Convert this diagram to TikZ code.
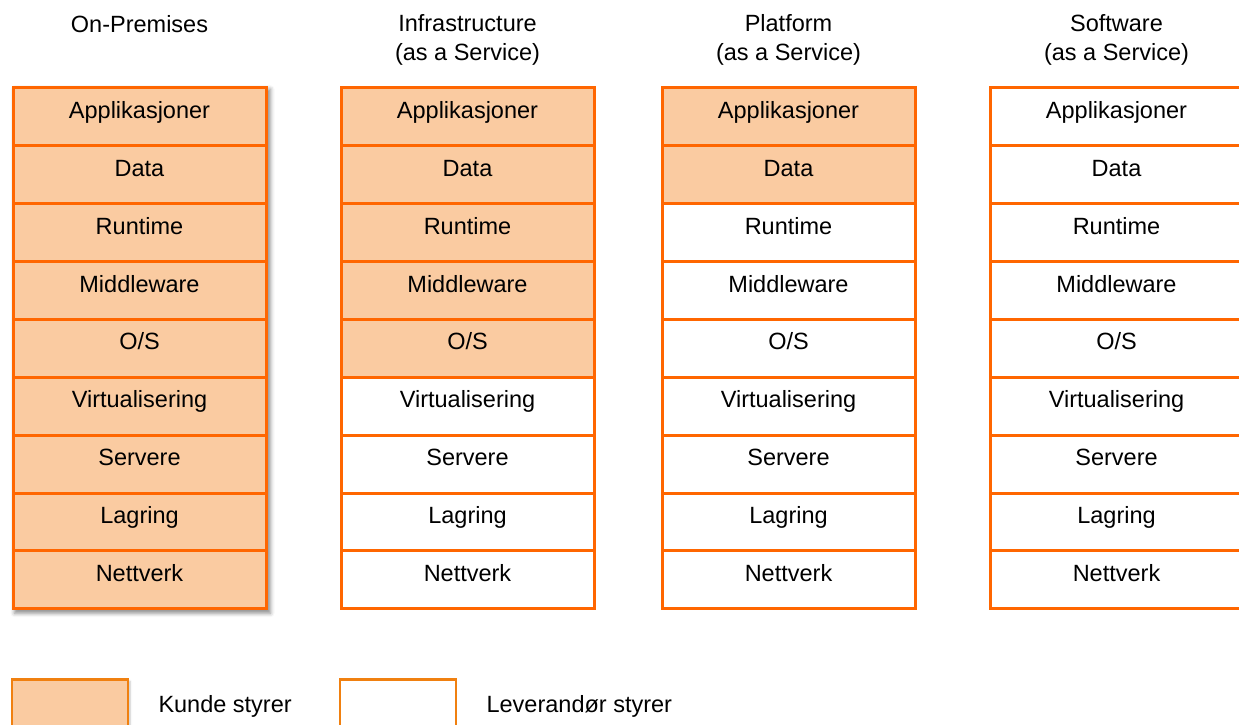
\documentclass[tikz,border=0pt]{standalone}
\usepackage{fontspec}
\setmainfont{Liberation Sans}
\usetikzlibrary{shadows.blur}
\definecolor{edge}{RGB}{255,102,0}
\definecolor{legendedge}{RGB}{240,128,16}
\definecolor{cust}{RGB}{250,203,161}
\tikzset{
  lbl/.style={font=\fontsize{23.5}{28.3}\selectfont, text=black, inner sep=0pt, outer sep=0pt},
  cell/.style={lbl, draw=edge, line width=3pt, minimum width=253pt,
    minimum height=57.9pt, anchor=north west, text height=12pt, text depth=8.7pt},
  legendbox/.style={draw=legendedge, line width=2.5pt, minimum width=116pt,
    minimum height=60pt, inner sep=0pt, outer sep=0pt, anchor=north west},
  title/.style={lbl, anchor=base},
}
\begin{document}
\begin{tikzpicture}[x=1pt,y=-1pt]
\useasboundingbox (0,0) rectangle (1239,725);
\clip (0,0) rectangle (1239,725);

% drop shadow under the on-premises stack
\node[fill=white, minimum width=256pt, minimum height=524pt, inner sep=0pt, outer sep=0pt,
  anchor=north west,
  blur shadow={shadow xshift=3pt, shadow yshift=-3pt, shadow blur radius=4pt, shadow opacity=45}]
  (stackshadow) at (11.5,86.2) {};

% column headings
\node[title] (t1)  at (139.5,32.3) {On-Premises};
\node[title] (t2a) at (467.5,31.7) {Infrastructure};
\node[title] (t2b) at (467.5,60.0) {(as a Service)};
\node[title] (t3a) at (788.5,31.7) {Platform};
\node[title] (t3b) at (788.5,60.0) {(as a Service)};
\node[title] (t4a) at (1116.5,31.7) {Software};
\node[title] (t4b) at (1116.5,60.0) {(as a Service)};

% the nine layers of each stack; the top \k layers are customer managed
\foreach \c/\x/\k in {1/13/9, 2/341/5, 3/662/2, 4/990/0} {
  \foreach \name [count=\r] in {Applikasjoner, Data, Runtime, Middleware, {O/S},
      Virtualisering, Servere, Lagring, Nettverk} {
    \ifnum\r>\k \def\fc{white}\else\def\fc{cust}\fi
    \node[cell, fill=\fc] (c\c r\r) at ({\x},{87.7+(\r-1)*57.9}) {\name};
  }
}

% legend
\node[legendbox, fill=cust,
  blur shadow={shadow xshift=2pt, shadow yshift=-2pt, shadow blur radius=2pt, shadow opacity=25}]
  (kunde) at (12,679.3) {};
\node[lbl, anchor=base west] (kundetxt) at (158.5,712.7) {Kunde styrer};
\node[legendbox, fill=white] (lev) at (340,679.3) {};
\node[lbl, anchor=base west] (levtxt) at (486.6,712.7) {Leverandør styrer};
\end{tikzpicture}
\end{document}
